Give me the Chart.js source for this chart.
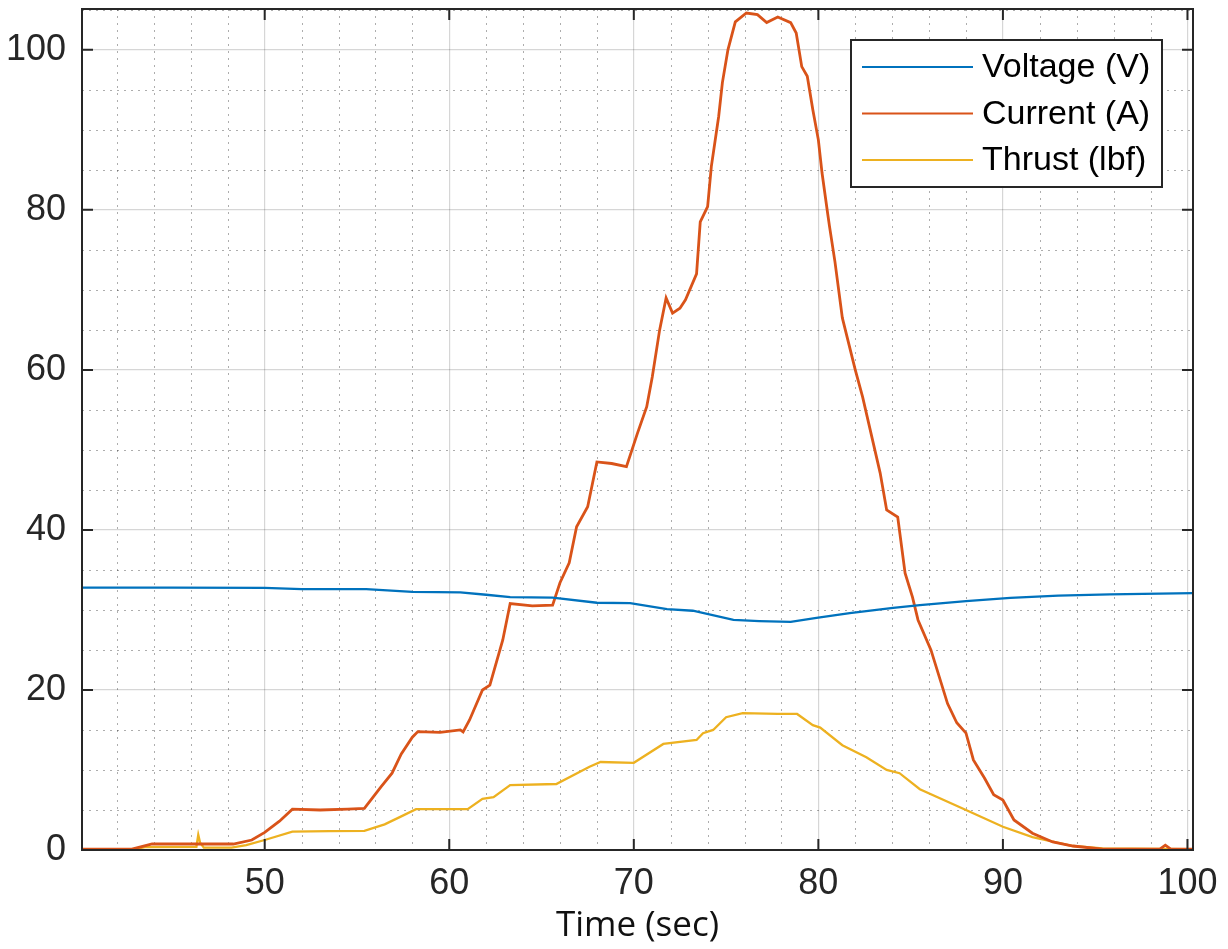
<!DOCTYPE html>
<html>
<head>
<meta charset="utf-8">
<script src="https://cdn.jsdelivr.net/npm/chart.js@4.4.1/dist/chart.umd.min.js"></script>
<style>
  html, body { margin: 0; padding: 0; background: #fff; }
  canvas { display: block; }
</style>
</head>
<body>
<canvas id="chart" width="1228" height="949"></canvas>
<script>
// values
const voltageTime = [40.1, 45, 50, 52, 55.5, 58, 60.6, 62, 63.3, 65.6, 68, 69.8, 71.8, 73.2, 75.4, 76.8, 78.5, 79.9, 81.7, 84.05, 85.5, 88, 90.4, 93, 95.8, 100.3];
const voltage = [32.8, 32.8, 32.75, 32.6, 32.6, 32.25, 32.2, 31.9, 31.6, 31.55, 30.9, 30.85, 30.1, 29.9, 28.75, 28.6, 28.5, 29, 29.6, 30.25, 30.6, 31.1, 31.5, 31.8, 31.95, 32.1];

const currentTime = [40.1, 42.8, 43.9, 46.4, 48.3, 49.3, 50, 50.8, 51.5, 53, 54.5, 55.4, 56.3, 56.9, 57.4, 58, 58.3, 59.5, 60.6, 60.75, 61.1, 61.8, 62.2, 62.9, 63.3, 64.5, 65.6, 66, 66.5, 66.9, 67.5, 68, 68.8, 69.6, 70.2, 70.7, 71, 71.4, 71.75, 72.1, 72.5, 72.8, 73.4, 73.6, 74, 74.2, 74.6, 74.8, 75.1, 75.5, 76.1, 76.7, 77.2, 77.8, 78.5, 78.8, 79.1, 79.4, 79.7, 80, 80.2, 80.5, 80.6, 80.9, 81.3, 82, 82.4, 83.35, 83.7, 84.3, 84.7, 85.1, 85.4, 86.1, 87, 87.5, 88, 88.4, 89, 89.5, 90, 90.6, 91.6, 92.7, 93.8, 95.4, 98.5, 98.8, 99.1, 100.3];
const current = [0.1, 0.1, 0.75, 0.75, 0.75, 1.25, 2.2, 3.6, 5.1, 5, 5.1, 5.2, 7.9, 9.6, 12, 14.1, 14.8, 14.7, 15, 14.75, 16.25, 20, 20.6, 26.25, 30.8, 30.5, 30.6, 33.4, 35.9, 40.4, 42.9, 48.5, 48.3, 47.9, 52.1, 55.4, 59.1, 65, 69, 67.1, 67.7, 68.75, 72, 78.5, 80.4, 85.4, 91.7, 95.9, 100, 103.5, 104.6, 104.4, 103.4, 104.1, 103.4, 102.1, 97.9, 96.7, 92.5, 88.75, 84.6, 79.6, 78, 73.5, 66.5, 60, 56.6, 47.1, 42.5, 41.6, 34.6, 31.6, 28.75, 25, 18.3, 15.9, 14.6, 11.25, 9, 6.9, 6.25, 3.75, 2.1, 1, 0.5, 0.1, 0.1, 0.6, 0.1, 0.1];

const thrustTime = [40.1, 43, 43.5, 46.3, 46.4, 46.5, 46.7, 48.2, 49, 50, 51.5, 53.5, 55.4, 56.5, 57.4, 58.2, 61, 61.8, 62.4, 63.3, 65.8, 67.6, 68.2, 70, 71.6, 73.4, 73.75, 74.3, 75, 75.9, 77.8, 78.85, 79.7, 80.1, 81.3, 82.6, 83.7, 84.4, 85.5, 88, 90, 91.6, 93.8, 95.4, 100.3];
const thrust = [0.1, 0.1, 0.35, 0.4, 1.9, 0.9, 0.3, 0.3, 0.6, 1.25, 2.3, 2.35, 2.4, 3.2, 4.2, 5.1, 5.1, 6.4, 6.6, 8.1, 8.25, 10.4, 11, 10.9, 13.25, 13.75, 14.6, 15, 16.6, 17.1, 17, 17, 15.6, 15.3, 13.1, 11.6, 10, 9.6, 7.6, 5, 2.9, 1.6, 0.5, 0.2, 0.1];

const seriesLabels = ['Voltage (V)', 'Current (A)', 'Thrust (lbf)'];
const xTicks = [50, 60, 70, 80, 90, 100];
const yTicks = [0, 20, 40, 60, 80, 100];
const xMinorTicks = [42, 44, 46, 48, 52, 54, 56, 58, 62, 64, 66, 68, 72, 74, 76, 78, 82, 84, 86, 88, 92, 94, 96, 98];
const yMinorTicks = [5, 10, 15, 25, 30, 35, 45, 50, 55, 65, 70, 75, 85, 90, 95, 105];

const pairs = (xs, ys) => xs.map((t, i) => ({x: t, y: ys[i]}));

const axisColor = '#262626';

const matlabAxes = {
	id: 'matlabAxes',
	beforeDatasetsDraw(chart) {
		const {ctx, chartArea: a, scales: {x, y}} = chart;
		ctx.save();
		ctx.strokeStyle = 'rgba(0,0,0,0.32)';
		ctx.lineWidth = 1;
		ctx.setLineDash([2, 5]);
		xMinorTicks.forEach((v) => {
			const px = Math.round(x.getPixelForValue(v)) + 0.5;
			ctx.beginPath();
			ctx.moveTo(px, a.top);
			ctx.lineTo(px, a.bottom);
			ctx.stroke();
		});
		yMinorTicks.forEach((v) => {
			const py = Math.round(y.getPixelForValue(v)) + 0.5;
			ctx.beginPath();
			ctx.moveTo(a.left, py);
			ctx.lineTo(a.right, py);
			ctx.stroke();
		});
		ctx.restore();
	},
	afterDatasetsDraw(chart) {
		const {ctx, chartArea: a, scales: {x, y}} = chart;
		ctx.save();
		ctx.strokeStyle = axisColor;
		ctx.lineWidth = 2;
		ctx.strokeRect(a.left, a.top, a.right - a.left, a.bottom - a.top);
		const len = 11;
		ctx.beginPath();
		xTicks.forEach((v) => {
			const px = x.getPixelForValue(v);
			ctx.moveTo(px, a.bottom); ctx.lineTo(px, a.bottom - len);
			ctx.moveTo(px, a.top); ctx.lineTo(px, a.top + len);
		});
		yTicks.forEach((v) => {
			const py = y.getPixelForValue(v);
			ctx.moveTo(a.left, py); ctx.lineTo(a.left + len, py);
			ctx.moveTo(a.right, py); ctx.lineTo(a.right - len, py);
		});
		ctx.stroke();

		// legend box, top right
		const bx = 851, by = 40, bw = 311, bh = 147;
		ctx.fillStyle = '#fff';
		ctx.fillRect(bx, by, bw, bh);
		ctx.strokeRect(bx, by, bw, bh);
		ctx.font = '34px "Liberation Sans", Arial, sans-serif';
		ctx.textBaseline = 'middle';
		ctx.textAlign = 'left';
		chart.data.datasets.forEach((ds, i) => {
			const ry = by + 27 + i * 46.5;
			ctx.strokeStyle = ds.borderColor;
			ctx.lineWidth = 2;
			ctx.beginPath();
			ctx.moveTo(bx + 11, ry);
			ctx.lineTo(bx + 122, ry);
			ctx.stroke();
			ctx.fillStyle = '#000';
			ctx.fillText(ds.label, bx + 131, ry + 1);
		});
		ctx.restore();
	}
};

const noEdgePadding = (s) => { s.paddingTop = 0; s.paddingBottom = 0; s.paddingLeft = 0; s.paddingRight = 0; };

new Chart(document.getElementById('chart'), {
	type: 'scatter',
	data: {
		datasets: [
			{label: seriesLabels[0], data: pairs(voltageTime, voltage), borderColor: '#0072BD', borderWidth: 2.3},
			{label: seriesLabels[1], data: pairs(currentTime, current), borderColor: '#D95319', borderWidth: 2.8},
			{label: seriesLabels[2], data: pairs(thrustTime, thrust), borderColor: '#EDB120', borderWidth: 2.3}
		].map((d) => Object.assign(d, {showLine: true, pointRadius: 0, tension: 0, fill: false}))
	},
	options: {
		responsive: false,
		animation: false,
		layout: {autoPadding: false, padding: {top: 9, right: 35, left: 0, bottom: 0}},
		plugins: {
			legend: {display: false},
			tooltip: {enabled: false}
		},
		scales: {
			x: {
				type: 'linear',
				min: 40.1,
				max: 100.3,
				afterBuildTicks: (s) => { s.ticks = xTicks.map((v) => ({value: v})); },
				afterFit: (s) => { s.height = 99; noEdgePadding(s); },
				grid: {color: 'rgba(0,0,0,0.16)', lineWidth: 1.2, drawTicks: false},
				border: {display: false},
				ticks: {padding: 12, color: axisColor, font: {family: '"Liberation Sans", Arial, sans-serif', size: 36}, maxRotation: 0},
				title: {display: true, text: 'Time (sec)', color: '#111', font: {family: '"Open Sans", sans-serif', size: 35}, padding: {top: 0, bottom: 2}}
			},
			y: {
				type: 'linear',
				min: 0,
				max: 105.1,
				afterBuildTicks: (s) => { s.ticks = yTicks.map((v) => ({value: v})); },
				afterFit: (s) => { s.width = 82; noEdgePadding(s); },
				grid: {color: 'rgba(0,0,0,0.16)', lineWidth: 1.2, drawTicks: false},
				border: {display: false},
				ticks: {padding: 16, color: axisColor, font: {family: '"Liberation Sans", Arial, sans-serif', size: 36}}
			}
		}
	},
	plugins: [matlabAxes]
});
</script>
</body>
</html>
